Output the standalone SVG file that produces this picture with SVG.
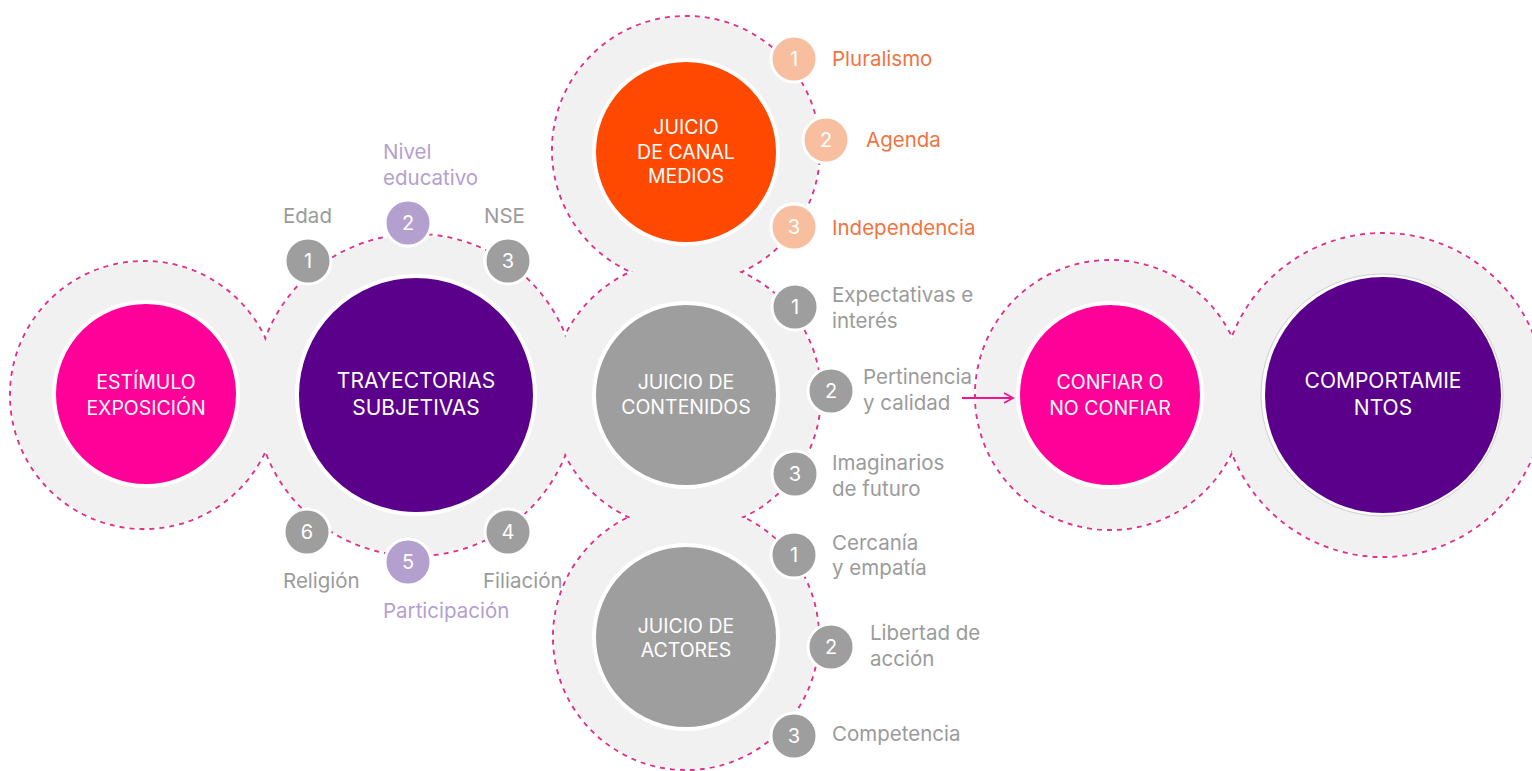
<svg xmlns="http://www.w3.org/2000/svg" width="1532" height="771" viewBox="0 0 1532 771">
<defs>
<style>
.ring{fill:none;stroke:#e0338a;stroke-width:2;stroke-dasharray:5 5}
.ringfill{fill:#f1f1f1}
.core{stroke:#fff;stroke-width:4}
.ct{font-family:Inter,"Noto Sans",sans-serif;font-size:19.5px;fill:#fff;text-anchor:middle}
.big{font-size:21px}
.num{stroke:#fff;stroke-width:3}
.nt{font-family:Inter,"Noto Sans",sans-serif;font-size:20px;fill:#fff;text-anchor:middle}
.lb{font-family:Inter,"Noto Sans",sans-serif;font-size:20.5px;fill:#9b9b9b}
.lbo{fill:#ef7442}
.lbp{fill:#b49fd0}
.g{fill:#9e9e9e}
.p{fill:#b3a0ce}
.o{fill:#f7bf9f}
</style>
<marker id="ah" markerWidth="12" markerHeight="12" refX="10" refY="6" orient="auto" markerUnits="userSpaceOnUse">
<path d="M1,1 L10,6 L1,11" fill="none" stroke="#f0158e" stroke-width="1.8"/>
</marker>
</defs>
<rect width="1532" height="771" fill="#fff"/>
<g id="rings">
<circle class="ring" cx="144" cy="395" r="134"/>
<circle class="ring" cx="416" cy="395" r="161"/>
<circle class="ring" cx="686" cy="150" r="134"/>
<circle class="ring" cx="686" cy="395" r="135"/>
<circle class="ring" cx="686" cy="637" r="133"/>
<circle class="ring" cx="1110" cy="395" r="135"/>
<circle class="ring" cx="1383" cy="395" r="162"/>
<circle class="ringfill" cx="144" cy="395" r="133"/>
<circle class="ringfill" cx="416" cy="395" r="160"/>
<circle class="ringfill" cx="686" cy="150" r="133"/>
<circle class="ringfill" cx="686" cy="395" r="134"/>
<circle class="ringfill" cx="686" cy="637" r="132"/>
<circle class="ringfill" cx="1110" cy="395" r="134"/>
<circle class="ringfill" cx="1383" cy="395" r="161"/>
</g>
<g id="estimulo">
<circle class="core" cx="146" cy="394" r="92" fill="#ff0099"/>
<text class="ct" x="146" y="389">ESTÍMULO</text>
<text class="ct" x="146" y="415">EXPOSICIÓN</text>
</g>
<g id="trayectorias">
<circle class="core" cx="416" cy="395" r="119" fill="#5b008b"/>
<text class="ct big" x="416" y="388">TRAYECTORIAS</text>
<text class="ct big" x="416" y="415">SUBJETIVAS</text>
<circle class="num g" cx="308" cy="261" r="23"/><text class="nt" x="308" y="268">1</text>
<circle class="num p" cx="408" cy="223" r="23"/><text class="nt" x="408" y="230">2</text>
<circle class="num g" cx="508" cy="261" r="23"/><text class="nt" x="508" y="268">3</text>
<circle class="num g" cx="508" cy="532" r="23"/><text class="nt" x="508" y="539">4</text>
<circle class="num p" cx="408" cy="562" r="23"/><text class="nt" x="408" y="569">5</text>
<circle class="num g" cx="307" cy="532" r="23"/><text class="nt" x="307" y="539">6</text>
<text class="lb" x="283" y="223">Edad</text>
<text class="lb lbp" x="383" y="159">Nivel</text>
<text class="lb lbp" x="383" y="185">educativo</text>
<text class="lb" x="484" y="223">NSE</text>
<text class="lb" x="483" y="588">Filiación</text>
<text class="lb lbp" x="383" y="618">Participación</text>
<text class="lb" x="283" y="588">Religión</text>
</g>
<g id="canal">
<circle class="core" cx="686" cy="152" r="92" fill="#ff4800"/>
<text class="ct" x="686" y="134">JUICIO</text>
<text class="ct" x="686" y="159">DE CANAL</text>
<text class="ct" x="686" y="183">MEDIOS</text>
<circle class="num o" cx="794" cy="59" r="23"/><text class="nt" x="794" y="66">1</text>
<circle class="num o" cx="826" cy="140" r="23"/><text class="nt" x="826" y="147">2</text>
<circle class="num o" cx="794" cy="227" r="23"/><text class="nt" x="794" y="234">3</text>
<text class="lb lbo" x="832" y="66">Pluralismo</text>
<text class="lb lbo" x="866" y="147">Agenda</text>
<text class="lb lbo" x="832" y="235">Independencia</text>
</g>
<g id="contenidos">
<circle class="core" cx="686" cy="395" r="92" fill="#9e9e9e"/>
<text class="ct" x="686" y="389">JUICIO DE</text>
<text class="ct" x="686" y="414">CONTENIDOS</text>
<circle class="num g" cx="795" cy="307" r="23"/><text class="nt" x="795" y="314">1</text>
<circle class="num g" cx="831" cy="391" r="23"/><text class="nt" x="831" y="398">2</text>
<circle class="num g" cx="795" cy="474" r="23"/><text class="nt" x="795" y="481">3</text>
<text class="lb" x="832" y="302">Expectativas e</text>
<text class="lb" x="832" y="328">interés</text>
<text class="lb" x="863" y="384">Pertinencia</text>
<text class="lb" x="863" y="410">y calidad</text>
<text class="lb" x="832" y="470">Imaginarios</text>
<text class="lb" x="832" y="496">de futuro</text>
</g>
<g id="actores">
<circle class="core" cx="686" cy="637" r="92" fill="#9e9e9e"/>
<text class="ct" x="686" y="633">JUICIO DE</text>
<text class="ct" x="686" y="657">ACTORES</text>
<circle class="num g" cx="794" cy="555" r="23"/><text class="nt" x="794" y="562">1</text>
<circle class="num g" cx="831" cy="647" r="23"/><text class="nt" x="831" y="654">2</text>
<circle class="num g" cx="794" cy="736" r="23"/><text class="nt" x="794" y="743">3</text>
<text class="lb" x="832" y="550">Cercanía</text>
<text class="lb" x="832" y="575">y empatía</text>
<text class="lb" x="870" y="640">Libertad de</text>
<text class="lb" x="870" y="666">acción</text>
<text class="lb" x="832" y="741">Competencia</text>
</g>
<g id="confiar">
<circle class="core" cx="1110" cy="395" r="92" fill="#ff0099"/>
<text class="ct" x="1110" y="389">CONFIAR O</text>
<text class="ct" x="1110" y="415">NO CONFIAR</text>
</g>
<g id="comportamientos">
<circle cx="1382" cy="395" r="121" fill="#fff" stroke="#cfcfcf" stroke-width="1"/>
<circle cx="1383" cy="395" r="118" fill="#5b008b"/>
<text class="ct big" x="1383" y="388">COMPORTAMIE</text>
<text class="ct big" x="1383" y="415">NTOS</text>
</g>
<g id="connectors">
<line x1="962" y1="398" x2="1013" y2="398" stroke="#f0158e" stroke-width="1.8" marker-end="url(#ah)"/>
</g>
</svg>
